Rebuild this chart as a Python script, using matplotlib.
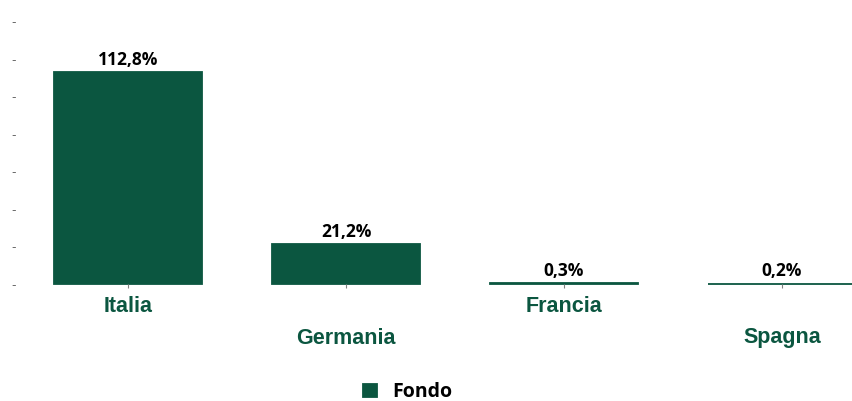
import numpy as np
import matplotlib.pyplot as plt

paesi = ['Italia', 'Germania', 'Francia', 'Spagna']
fondo = [112.8, 21.2, 0.3, 0.2]
etichette = ['112,8%', '21,2%', '0,3%', '0,2%']
y_ticks = [0, 20, 40, 60, 80, 100, 120, 140]

verde = '#0b5640'

fig = plt.figure(figsize=(8.53, 4.01), dpi=100)
ax = fig.add_axes([19/853, 117/401, 834/853, 263/401])

x = np.arange(len(paesi))
bars = ax.bar(x, fondo, width=0.68, color=verde, edgecolor=verde, linewidth=1.3, label='Fondo')
for b in bars:
    b.set_clip_on(False)

for xi, v, t in zip(x, fondo, etichette):
    ax.text(xi, v + 1.8, t, ha='center', va='bottom', fontsize=12.5,
            fontweight='bold', family='Open Sans', color='black')

ax.set_xlim(-0.5, 3.326)
ax.set_ylim(0, 140)

ax.set_xticks(x)
ax.set_xticklabels([])
ax.tick_params(axis='x', length=3, width=0.8, color='#808080', direction='out', pad=0)
for i, nome in enumerate(paesi):
    yy = -22 if i % 2 == 0 else -54
    ax.annotate(nome, xy=(i, 0), xycoords='data', xytext=(0, yy), textcoords='offset pixels',
                ha='center', va='center', fontsize=15.5, fontweight='bold',
                family='Liberation Sans', color=verde)

ax.set_yticks(y_ticks)
ax.set_yticklabels(['-'] * len(y_ticks), color='#666666', fontsize=9)
ax.tick_params(axis='y', length=0, pad=2)

for s in ax.spines.values():
    s.set_visible(False)

leg = fig.legend(handles=[bars], labels=['Fondo'], loc='center', bbox_to_anchor=(0.478, 0.022),
                 frameon=False, handlelength=0.7, handleheight=0.7, handletextpad=0.8,
                 borderpad=0.2, prop={'family': 'Open Sans', 'weight': 'bold', 'size': 14})

fig.savefig('out.png', dpi=100)
